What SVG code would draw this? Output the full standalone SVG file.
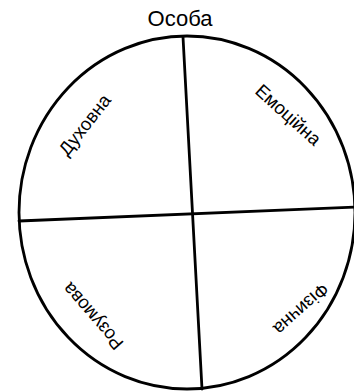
<svg xmlns="http://www.w3.org/2000/svg" width="354" height="391" viewBox="0 0 354 391">
<style>
.shape{fill:none;stroke:#000;stroke-width:2.8;stroke-linecap:round}
.lbl{font-family:"Liberation Sans","Arial",sans-serif;font-size:18.5px;fill:#000;text-anchor:middle}
.title{font-family:"Liberation Sans","Arial",sans-serif;font-size:22px;fill:#000;text-anchor:middle}
</style>
<rect width="354" height="391" fill="#fff"/>
<g id="circle">
<ellipse class="shape" cx="187" cy="212.5" rx="168" ry="176.5"/>
</g>
<g id="connectors">
<line class="shape" x1="183" y1="37" x2="202" y2="389"/>
<line class="shape" x1="19" y1="221" x2="356" y2="207"/>
</g>
<g id="title"><text class="title" x="180" y="26">Особа</text></g>
<g id="dukhovna"><text class="lbl" x="85" y="131" transform="rotate(-52 85 125)">Духовна</text></g>
<g id="emotsiyna"><text class="lbl" x="288" y="121" transform="rotate(42 288 115)">Емоційна</text></g>
<g id="rozumova"><text class="lbl" x="93" y="322" transform="rotate(-131 93 316)">Розумова</text></g>
<g id="fizychna"><text class="lbl" x="301" y="315" transform="rotate(138 301 309)">Фізична</text></g>
</svg>
